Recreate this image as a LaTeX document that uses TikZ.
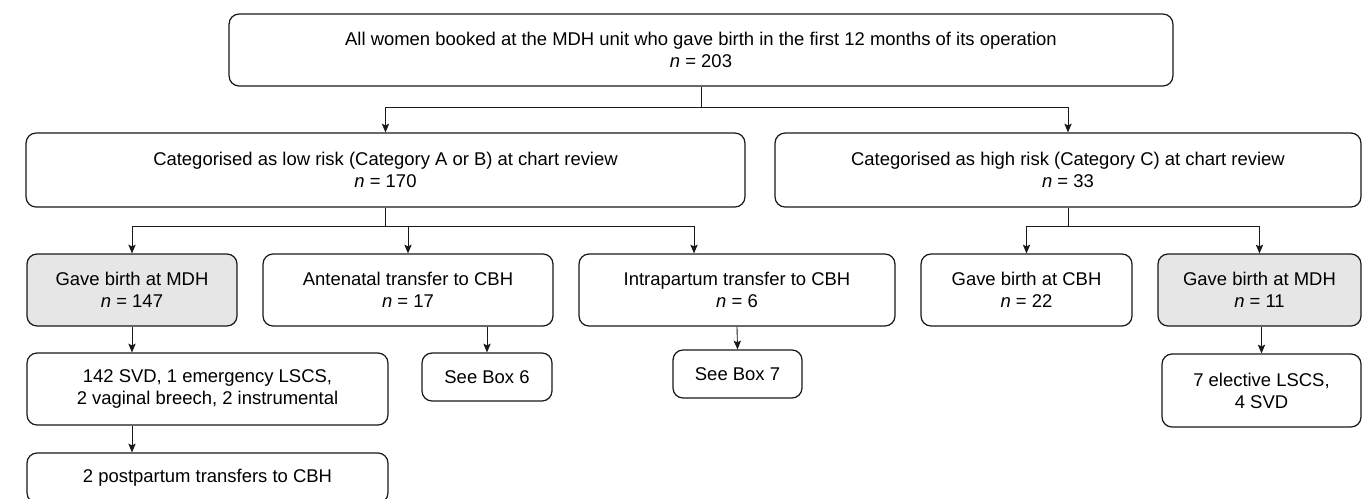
\documentclass[tikz,border=0pt]{standalone}
\usepackage{fontspec}
\setmainfont{Liberation Sans}
\usepackage{xcolor}
\usepackage{tikz}
\usetikzlibrary{positioning, arrows.meta, calc}

\definecolor{boxgray}{HTML}{E6E6E6}

\begin{document}
\begin{tikzpicture}[
        x=0.02cm, y=-0.02cm,
        every node/.style={font=\fontsize{10.5}{12.5}\selectfont},
        box/.style={rectangle, rounded corners=0.2cm, draw=black!90, line width=0.7pt, align=center, inner sep=0pt},
        shaded/.style={box, fill=boxgray},
        arr/.style={-{Stealth[length=5pt, width=4.2pt, inset=1pt]}, line width=0.5pt, draw=black!90},
        line/.style={line width=0.5pt, draw=black!90}
    ]
        \useasboundingbox (0,0) rectangle (1363,498);

        \node[box, minimum width=18.88cm, minimum height=1.44cm] (all) at (701,50)
            {All women booked at the MDH unit who gave birth in the first 12 months of its operation\\ \textit{n} = 203};

        % Risk categories
        \node[box, minimum width=14.38cm, minimum height=1.48cm] (low) at (385.5,170)
            {Categorised as low risk (Category A or B) at chart review\\ \textit{n} = 170};
        \node[box, minimum width=11.72cm, minimum height=1.48cm] (high) at (1068,170)
            {Categorised as high risk (Category C) at chart review\\ \textit{n} = 33};

        % Where they gave birth
        \node[shaded, minimum width=4.2cm, minimum height=1.44cm] (lowmdh) at (132,290)
            {Gave birth at MDH\\ \textit{n} = 147};
        \node[box, minimum width=5.8cm, minimum height=1.44cm] (antenatal) at (408,290)
            {Antenatal transfer to CBH\\ \textit{n} = 17};
        \node[box, minimum width=6.32cm, minimum height=1.44cm] (intrapartum) at (737,290)
            {Intrapartum transfer to CBH\\ \textit{n} = 6};
        \node[box, minimum width=4.22cm, minimum height=1.44cm] (highcbh) at (1026.5,290)
            {Gave birth at CBH\\ \textit{n} = 22};
        \node[shaded, minimum width=4.06cm, minimum height=1.44cm] (highmdh) at (1259.5,290)
            {Gave birth at MDH\\ \textit{n} = 11};

        % Outcomes
        \node[box, minimum width=7.22cm, minimum height=1.44cm] (modes) at (207.5,389)
            {142 SVD, 1 emergency LSCS,\\ 2 vaginal breech, 2 instrumental};
        \node[box, minimum width=2.6cm, minimum height=0.96cm] (box6) at (487,377) {See Box 6};
        \node[box, minimum width=2.58cm, minimum height=0.96cm] (box7) at (737.5,374) {See Box 7};
        \node[box, minimum width=3.98cm, minimum height=1.46cm] (elective) at (1261.5,390.5)
            {7 elective LSCS,\\ 4 SVD};
        \node[box, minimum width=7.22cm, minimum height=1.0cm] (postpartum) at (207.5,478)
            {2 postpartum transfers to CBH};

        % Connectors
        \coordinate (split1) at ($(all.south)+(0,21)$);
        \draw[line] (all.south) -- (split1);
        \draw[arr] (split1) -| (low.north);
        \draw[arr] (split1) -| (high.north);

        \coordinate (split2) at ($(low.south)+(0,19)$);
        \draw[line] (low.south) -- (split2);
        \draw[arr] (split2) -| (lowmdh.north);
        \draw[arr] (split2) -| (antenatal.north);
        \draw[arr] (split2) -| ([xshift=-0.86cm]intrapartum.north);

        \coordinate (split3) at ($(high.south)+(0,19)$);
        \draw[line] (high.south) -- (split3);
        \draw[arr] (split3) -| (highcbh.north);
        \draw[arr] (split3) -| (highmdh.north);

        \draw[arr] (lowmdh.south) -- (lowmdh.south |- modes.north);
        \draw[arr] (lowmdh.south |- modes.south) -- (lowmdh.south |- postpartum.north);
        \draw[arr] (box6.north |- antenatal.south) -- (box6.north);
        \draw[arr] (intrapartum.south) -- (box7.north);
        \draw[arr] (elective.north |- highmdh.south) -- (elective.north);

    \end{tikzpicture}
\end{document}
